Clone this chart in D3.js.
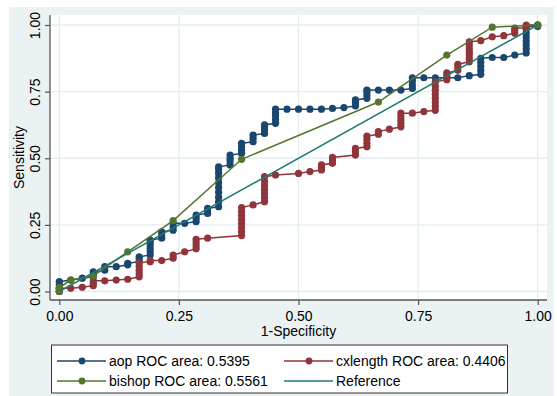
<!DOCTYPE html>
<html>
<head>
<meta charset="utf-8">
<script src="https://cdn.jsdelivr.net/npm/d3@7"></script>
<style>
  body { margin: 0; background: #fff; }
  svg text { font-family: "Liberation Sans", Arial, sans-serif; fill: #000; }
</style>
</head>
<body>
<div id="chart"></div>
<script>
// ROC points: [1-specificity, sensitivity]
var aop = [
  [0,0],[0,0.012],[0,0.025],[0,0.037],
  [0.024,0.043],
  [0.048,0.05],
  [0.071,0.055],[0.071,0.065],[0.071,0.074],
  [0.095,0.08],[0.095,0.093],
  [0.119,0.093],
  [0.143,0.1],[0.143,0.106],
  [0.167,0.112],[0.167,0.122],[0.167,0.13],
  [0.190,0.137],[0.190,0.15],[0.190,0.162],[0.190,0.175],[0.190,0.187],[0.190,0.193],
  [0.214,0.2],[0.214,0.212],[0.214,0.224],
  [0.238,0.23],[0.238,0.243],[0.238,0.256],
  [0.262,0.256],
  [0.286,0.262],[0.286,0.275],[0.286,0.287],
  [0.310,0.293],[0.310,0.303],[0.310,0.312],
  [0.333,0.318],[0.333,0.336],[0.333,0.354],[0.333,0.372],[0.333,0.39],[0.333,0.408],[0.333,0.426],[0.333,0.444],[0.333,0.46],[0.333,0.468],
  [0.357,0.475],[0.357,0.49],[0.357,0.5],[0.357,0.512],
  [0.381,0.518],[0.381,0.53],[0.381,0.543],[0.381,0.556],
  [0.405,0.562],[0.405,0.575],[0.405,0.587],
  [0.429,0.593],[0.429,0.606],[0.429,0.618],[0.429,0.625],
  [0.452,0.631],[0.452,0.645],[0.452,0.66],[0.452,0.672],[0.452,0.684],
  [0.476,0.684],[0.500,0.684],[0.524,0.684],[0.548,0.684],[0.571,0.687],[0.595,0.69],
  [0.619,0.696],[0.619,0.708],[0.619,0.719],
  [0.643,0.725],[0.643,0.737],[0.643,0.75],[0.643,0.756],
  [0.667,0.756],[0.690,0.756],[0.714,0.756],
  [0.738,0.762],[0.738,0.775],[0.738,0.79],[0.738,0.802],
  [0.762,0.802],[0.786,0.802],[0.810,0.802],[0.833,0.802],
  [0.857,0.81],
  [0.881,0.815],[0.881,0.83],[0.881,0.845],[0.881,0.86],[0.881,0.875],
  [0.905,0.878],[0.929,0.878],[0.952,0.887],
  [0.976,0.895],[0.976,0.91],[0.976,0.925],[0.976,0.94],[0.976,0.955],[0.976,0.97],[0.976,0.985],[0.976,0.994],
  [1,0.994],[1,1]
];

var cxlength = [
  [0,0],[0,0.006],[0,0.012],
  [0.024,0.012],
  [0.048,0.016],
  [0.071,0.022],[0.071,0.03],[0.071,0.04],
  [0.095,0.04],
  [0.119,0.043],
  [0.143,0.046],
  [0.167,0.055],[0.167,0.068],[0.167,0.08],[0.167,0.094],[0.167,0.108],
  [0.190,0.112],[0.190,0.116],
  [0.214,0.116],
  [0.238,0.125],[0.238,0.137],
  [0.262,0.149],
  [0.286,0.16],[0.286,0.172],[0.286,0.184],[0.286,0.196],
  [0.310,0.2],
  [0.381,0.21],[0.381,0.225],[0.381,0.24],[0.381,0.255],[0.381,0.27],[0.381,0.285],[0.381,0.3],[0.381,0.315],
  [0.405,0.325],
  [0.429,0.337],[0.429,0.352],[0.429,0.367],[0.429,0.382],[0.429,0.397],[0.429,0.412],[0.429,0.431],
  [0.452,0.437],
  [0.500,0.443],
  [0.524,0.45],
  [0.548,0.456],[0.548,0.466],[0.548,0.475],
  [0.571,0.481],[0.571,0.492],[0.571,0.503],
  [0.619,0.512],[0.619,0.524],[0.619,0.537],
  [0.643,0.543],[0.643,0.556],[0.643,0.57],[0.643,0.583],
  [0.667,0.59],[0.667,0.6],
  [0.690,0.609],
  [0.714,0.618],[0.714,0.63],[0.714,0.643],[0.714,0.656],[0.714,0.669],
  [0.738,0.669],
  [0.762,0.675],
  [0.786,0.68],[0.786,0.695],[0.786,0.71],[0.786,0.725],[0.786,0.74],[0.786,0.755],[0.786,0.77],[0.786,0.787],
  [0.810,0.795],[0.810,0.81],[0.810,0.82],
  [0.833,0.83],[0.833,0.842],[0.833,0.852],
  [0.857,0.862],[0.857,0.875],[0.857,0.888],[0.857,0.9],[0.857,0.912],[0.857,0.925],[0.857,0.937],
  [0.881,0.941],
  [0.905,0.956],
  [0.929,0.96],
  [0.952,0.969],[0.952,0.978],[0.952,0.988],
  [0.976,0.99],[0.976,1],
  [1,1]
];

var bishop = [
  [0,0],[0,0.015],[0.024,0.043],[0.071,0.058],[0.143,0.149],[0.238,0.266],
  [0.381,0.496],[0.667,0.711],[0.810,0.887],[0.905,0.992],[1,1]
];

var reference = [[0,0],[1,1]];

var ticks = [0, 0.25, 0.5, 0.75, 1];
var legendLabels = ["aop ROC area: 0.5395", "cxlength ROC area: 0.4406",
                    "bishop ROC area: 0.5561", "Reference"];
var colors = ["#1a476f", "#90353b", "#55752f", "#1f7a72"];

var width = 557, height = 396;
var svg = d3.select("#chart").append("svg")
    .attr("width", width)
    .attr("height", height);

// graph region
svg.append("rect").attr("x", 9).attr("y", 7)
    .attr("width", 545).attr("height", 389).attr("fill", "#eaf2f3");

// plot region
var plot = {left: 50, right: 547, top: 15, bottom: 300};
svg.append("rect").attr("x", plot.left).attr("y", plot.top)
    .attr("width", plot.right - plot.left).attr("height", plot.bottom - plot.top)
    .attr("fill", "#fff");

var x = d3.scaleLinear().domain([0, 1]).range([59.3, 537.7]);
var y = d3.scaleLinear().domain([0, 1]).range([291.5, 25]);

// grid
svg.selectAll(".gx").data(ticks).enter().append("line")
    .attr("x1", function (d) { return x(d); }).attr("x2", function (d) { return x(d); })
    .attr("y1", plot.top).attr("y2", plot.bottom)
    .attr("stroke", "#e3edf0").attr("stroke-width", 1.3);
svg.selectAll(".gy").data(ticks).enter().append("line")
    .attr("y1", function (d) { return y(d); }).attr("y2", function (d) { return y(d); })
    .attr("x1", plot.left).attr("x2", plot.right)
    .attr("stroke", "#e3edf0").attr("stroke-width", 1.3);

// axes
var fmt = d3.format(".2f");
var gx = svg.append("g").attr("transform", "translate(0," + plot.bottom + ")")
    .call(d3.axisBottom(x).tickValues(ticks).tickFormat(fmt).tickSize(5).tickSizeOuter(0));
gx.select(".domain").remove();
gx.selectAll(".tick line").attr("stroke", "#555").attr("stroke-width", 1.2);
gx.selectAll(".tick text").attr("y", 21).attr("dy", 0)
    .style("font-size", "14px").style("font-family", "Liberation Sans, Arial, sans-serif").attr("fill", "#000");

var gy = svg.append("g").attr("transform", "translate(" + plot.left + ",0)")
    .call(d3.axisLeft(y).tickValues(ticks).tickFormat(fmt).tickSize(5).tickSizeOuter(0));
gy.select(".domain").remove();
gy.selectAll(".tick line").attr("stroke", "#555").attr("stroke-width", 1.2);
gy.selectAll(".tick text")
    .attr("transform", "rotate(-90)")
    .attr("x", 0).attr("y", -10).attr("dy", 0)
    .attr("text-anchor", "middle")
    .style("font-size", "14px").style("font-family", "Liberation Sans, Arial, sans-serif").attr("fill", "#000");

svg.append("line").attr("x1", plot.left).attr("x2", plot.right)
    .attr("y1", plot.bottom).attr("y2", plot.bottom)
    .attr("stroke", "#555").attr("stroke-width", 1.3);
svg.append("line").attr("x1", plot.left).attr("x2", plot.left)
    .attr("y1", plot.top).attr("y2", plot.bottom)
    .attr("stroke", "#555").attr("stroke-width", 1.3);

svg.append("text").attr("x", 298.5).attr("y", 336)
    .attr("text-anchor", "middle").style("font-size", "14px").text("1-Specificity");
svg.append("text").attr("transform", "translate(24,157.5) rotate(-90)")
    .attr("text-anchor", "middle").style("font-size", "14px").text("Sensitivity");

// curves
var line = d3.line().x(function (d) { return x(d[0]); }).y(function (d) { return y(d[1]); });
var series = [aop, cxlength, bishop];

series.forEach(function (s, i) {
  svg.append("path").datum(s).attr("d", line)
      .attr("fill", "none").attr("stroke", colors[i]).attr("stroke-width", 1.5);
  svg.selectAll(".m" + i).data(s).enter().append("circle")
      .attr("cx", function (d) { return x(d[0]); })
      .attr("cy", function (d) { return y(d[1]); })
      .attr("r", 3.6)
      .attr("fill", colors[i]);
});

svg.append("path").datum(reference).attr("d", line)
    .attr("fill", "none").attr("stroke", colors[3]).attr("stroke-width", 1.5);

// legend
var lg = svg.append("g");
lg.append("rect").attr("x", 51.5).attr("y", 345).attr("width", 456).attr("height", 48)
    .attr("fill", "#fff").attr("stroke", "#333").attr("stroke-width", 1);
var lx = [57, 284], ly = [361, 381];
legendLabels.forEach(function (lab, i) {
  var cx = lx[i % 2], cy = ly[Math.floor(i / 2)];
  lg.append("line").attr("x1", cx).attr("x2", cx + 49).attr("y1", cy).attr("y2", cy)
      .attr("stroke", colors[i]).attr("stroke-width", 1.5);
  if (i < 3) {
    lg.append("circle").attr("cx", cx + 25).attr("cy", cy).attr("r", 3.4).attr("fill", colors[i]);
  }
  lg.append("text").attr("x", cx + 52).attr("y", cy).attr("dy", "0.36em")
      .style("font-size", "14px").text(lab);
});
</script>
</body>
</html>
